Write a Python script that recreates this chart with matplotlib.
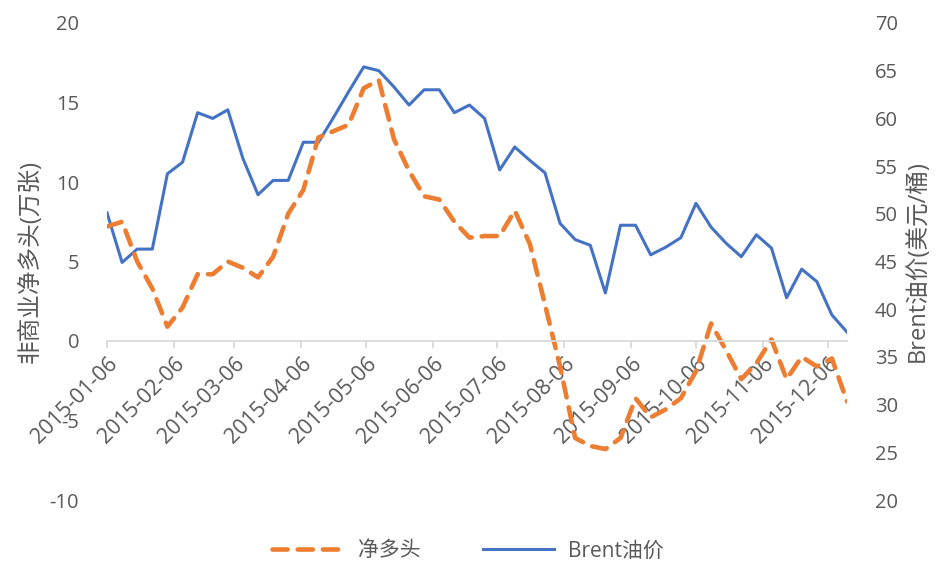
import matplotlib
matplotlib.use("Agg")
import matplotlib.pyplot as plt
import matplotlib.dates as mdates
import pandas as pd

plt.rcParams['font.family'] = ['Open Sans', 'Noto Sans CJK SC', 'DejaVu Sans']
plt.rcParams['axes.unicode_minus'] = False

# weekly data (Tuesdays), 2015-01-06 .. 2015-12-15
dates = pd.date_range("2015-01-06", periods=50, freq="7D")

net_long = [7.2, 7.5, 5.0, 3.3, 0.9, 2.1, 4.2, 4.2, 5.0, 4.6,
            4.0, 5.3, 8.0, 9.5, 12.8, 13.2, 13.6, 15.9, 16.4, 12.7,
            10.7, 9.1, 8.9, 7.5, 6.5, 6.6, 6.6, 8.2, 6.1, 2.3,
            -1.6, -6.1, -6.6, -6.8, -6.1, -3.6, -4.8, -4.3, -3.6, -1.9,
            1.1, -0.6, -2.4, -1.4, 0.1, -2.4, -1.0, -1.6, -1.1, -3.8]

brent = [50.1, 44.9, 46.3, 46.3, 54.2, 55.4, 60.6, 60.0, 60.9, 55.8,
         52.0, 53.5, 53.5, 57.5, 57.5, 60.1, 62.8, 65.4, 65.0, 63.3,
         61.4, 63.0, 63.0, 60.6, 61.4, 60.0, 54.6, 57.0, 55.6, 54.3,
         49.0, 47.3, 46.7, 41.7, 48.8, 48.8, 45.7, 46.5, 47.5, 51.1,
         48.6, 46.9, 45.5, 47.8, 46.4, 41.2, 44.2, 42.9, 39.4, 37.6]

month_ticks = ["2015-01-06", "2015-02-06", "2015-03-06", "2015-04-06",
               "2015-05-06", "2015-06-06", "2015-07-06", "2015-08-06",
               "2015-09-06", "2015-10-06", "2015-11-06", "2015-12-06"]

ORANGE = "#ED7D31"
BLUE = "#4472C4"
GRAY = "#595959"
AXIS = "#D9D9D9"

x = mdates.date2num(dates.to_pydatetime())
xt = mdates.date2num(pd.to_datetime(month_ticks).to_pydatetime())

fig = plt.figure(figsize=(9.36, 5.66), dpi=100)
ax = fig.add_axes([107 / 936, 1 - 500 / 566, 740 / 936, 477 / 566])
ax2 = ax.twinx()
ax.set_zorder(ax2.get_zorder() + 1)
ax.patch.set_visible(False)

l2, = ax2.plot(x, brent, color=BLUE, lw=2.2, label="Brent油价")
l1, = ax.plot(x, net_long, color=ORANGE, lw=3.3, linestyle=(0, (3.3, 2.2)),
              dash_capstyle="round", label="净多头")

ax.set_ylim(-10, 20)
ax.set_yticks(range(-10, 21, 5))
ax2.set_ylim(20, 70)
ax2.set_yticks(range(20, 71, 5))
ax.set_xlim(x[0], x[-1])

for a in (ax, ax2):
    for s in a.spines.values():
        s.set_visible(False)
ax.spines["bottom"].set_visible(True)
ax.spines["bottom"].set_position(("data", 0))
ax.spines["bottom"].set_color(AXIS)
ax.spines["bottom"].set_linewidth(1.3)

ax.tick_params(axis="x", direction="out", length=5, width=1.3, color=AXIS,
               labelsize=15.5, labelcolor=GRAY, pad=4)
ax.tick_params(axis="y", length=0, labelsize=14.5, labelcolor=GRAY, pad=20)
ax2.tick_params(axis="y", length=0, labelsize=14.5, labelcolor=GRAY, pad=20)

ax.set_xticks(xt)
ax.set_xticklabels(month_ticks, rotation=45, ha="right", va="top",
                   rotation_mode="anchor")

ax.set_ylabel("非商业净多头(万张)", fontsize=17, color=GRAY, labelpad=5)
ax2.set_ylabel("Brent油价(美元/桶)", fontsize=17, color=GRAY, rotation=90, labelpad=6)

fig.legend([l1, l2], ["净多头", "Brent油价"], loc="lower center",
           bbox_to_anchor=(0.5, -0.025), ncol=2, frameon=False, fontsize=15,
           labelcolor=GRAY, handlelength=3.4, handletextpad=0.7, columnspacing=3.0)

fig.savefig("out.png", dpi=100)
